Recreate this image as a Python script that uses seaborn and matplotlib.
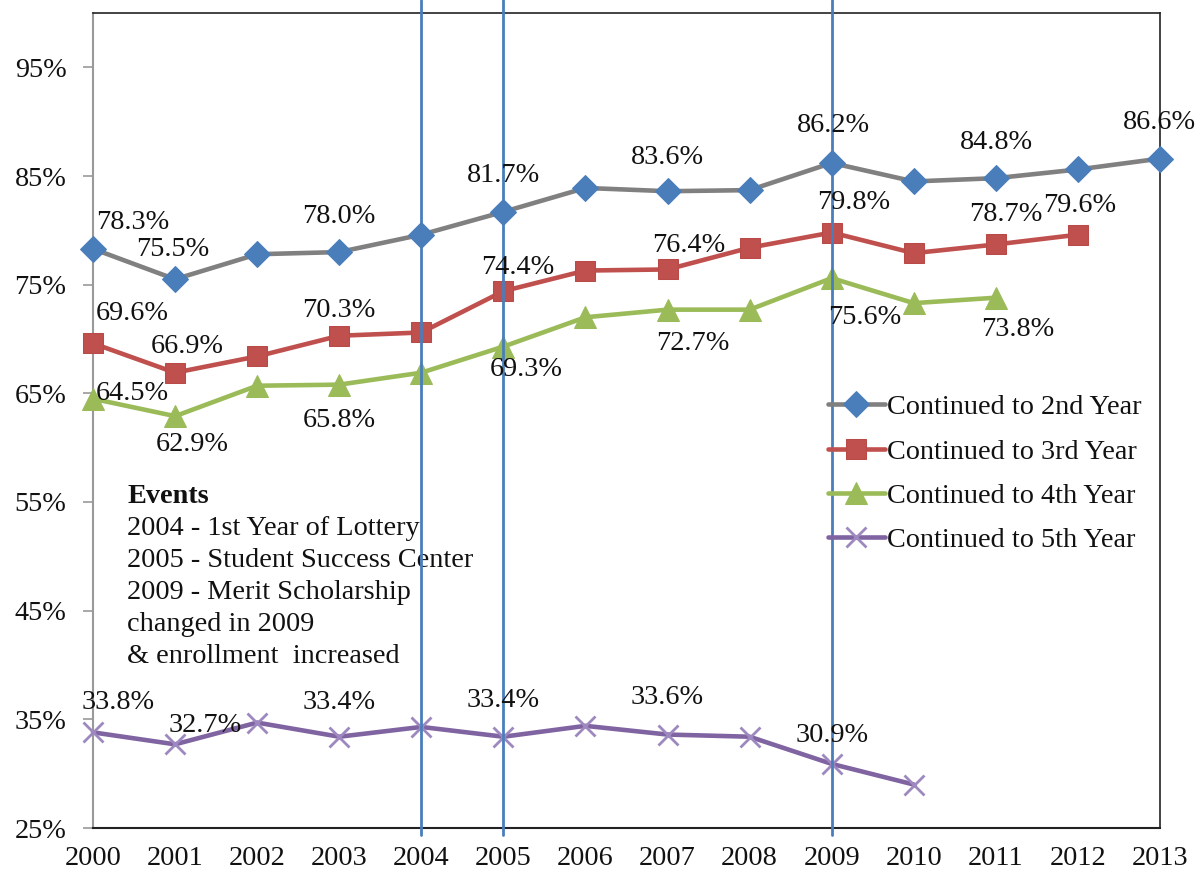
import matplotlib
matplotlib.use('Agg')
import matplotlib.pyplot as plt
import seaborn as sns
import pandas as pd

############### data ###############
years = [2000, 2001, 2002, 2003, 2004, 2005, 2006, 2007, 2008, 2009, 2010, 2011, 2012, 2013]
second_year = [78.3, 75.5, 77.8, 78.0, 79.6, 81.7, 83.9, 83.6, 83.7, 86.2, 84.5, 84.8, 85.6, 86.6]
third_year = [69.6, 66.9, 68.4, 70.3, 70.6, 74.4, 76.3, 76.4, 78.4, 79.8, 77.9, 78.7, 79.6]
fourth_year = [64.5, 62.9, 65.7, 65.8, 66.9, 69.3, 72.0, 72.7, 72.7, 75.6, 73.3, 73.8]
fifth_year = [33.8, 32.7, 34.7, 33.4, 34.3, 33.4, 34.4, 33.6, 33.4, 30.9, 29.0]

series_names = ['Continued to 2nd Year', 'Continued to 3rd Year',
                'Continued to 4th Year', 'Continued to 5th Year']
event_years = [2004, 2005, 2009]
events_title = 'Events'
events_lines = ['2004 - 1st Year of Lottery',
                '2005 - Student Success Center',
                '2009 - Merit Scholarship',
                'changed in 2009',
                '& enrollment  increased']
y_ticks = [25, 35, 45, 55, 65, 75, 85, 95]

# label placement (pixel offsets from the point), per series
label_offsets = [
    {2000: (40, 26), 2001: (-2, 30), 2003: (0, 36), 2005: (0, 36), 2007: (0, 34),
     2009: (2, 37), 2011: (1, 36), 2013: (-1, 36)},
    {2000: (39, 30), 2001: (12, 26), 2003: (0, 25), 2005: (14, 24), 2007: (21, 24),
     2009: (22, 30), 2011: (10, 30), 2012: (2, 29)},
    {2000: (39, 5), 2001: (17, -28), 2003: (0, -36), 2005: (23, -23), 2007: (25, -34),
     2009: (33, -39), 2011: (22, -32)},
    {2000: (25, 30), 2001: (30, 19), 2003: (0, 34), 2005: (0, 36), 2007: (0, 37),
     2009: (0, 28)},
]

styles = [
    dict(color='#808080', marker='D', markersize=13, markerfacecolor='#4a7ebb', markeredgecolor='#4a7ebb'),
    dict(color='#c0504d', marker='s', markersize=15, markerfacecolor='#c0504d', markeredgecolor='#b84a47'),
    dict(color='#9bbb59', marker='^', markersize=16, markerfacecolor='#9bbb59', markeredgecolor='#9bbb59'),
    dict(color='#8064a2', marker='x', markersize=15, markeredgecolor='#9d88bf', markeredgewidth=2),
]

FS = 20.3

sns.set_style('white')
plt.rcParams['font.family'] = ['Liberation Serif', 'DejaVu Serif']

fig = plt.figure(figsize=(12.01, 8.74), dpi=100)
ax = fig.add_axes([93 / 1201, 46 / 874, 1067 / 1201, 815 / 874])

all_series = [second_year, third_year, fourth_year, fifth_year]
for name, vals, st, offs in zip(series_names, all_series, styles, label_offsets):
    df = pd.DataFrame({'year': years[:len(vals)], 'rate': vals})
    sns.lineplot(data=df, x='year', y='rate', ax=ax, linewidth=3.3, label=name,
                 clip_on=False, zorder=3, **st)
    for yr, (dx, dy) in offs.items():
        v = vals[years.index(yr)]
        ax.annotate(f'{v:.1f}%', xy=(yr, v), xytext=(dx, dy), textcoords='offset pixels',
                    ha='center', va='center', fontsize=FS, color='#111111', zorder=5)

for ev in event_years:
    ax.axvline(ev, ymin=-0.009, ymax=1.016, color='#4a7ebb', linewidth=2, clip_on=False, zorder=4)

ax.set_xlim(2000, 2013)
ax.set_ylim(25, 100)
ax.set_xticks(years)
ax.set_xticklabels([str(y) for y in years], fontsize=FS)
ax.set_yticks(y_ticks)
ax.set_yticklabels([f'{t}%' for t in y_ticks], fontsize=FS)
ax.set_xlabel('')
ax.set_ylabel('')
ax.tick_params(axis='x', direction='in', length=7, width=1.2, color='#333333', pad=13,
               labelcolor='#111111')
ax.tick_params(axis='y', direction='out', length=7, width=1.2, color='#999999', pad=12,
               left=True, labelcolor='#111111')

for side in ['top', 'right']:
    ax.spines[side].set_color('#222222')
    ax.spines[side].set_linewidth(1.2)
ax.spines['left'].set_color('#999999')
ax.spines['left'].set_linewidth(1.5)
ax.spines['bottom'].set_color('#222222')
ax.spines['bottom'].set_linewidth(1.5)

ax.text(0.032, 0.422, events_title, transform=ax.transAxes, fontsize=FS,
        fontweight='bold', va='top', ha='left', color='#111111')
ax.text(0.032, 0.383, '\n'.join(events_lines), transform=ax.transAxes, fontsize=FS,
        va='top', ha='left', linespacing=1.37, color='#111111')

leg = ax.legend(loc='upper left', bbox_to_anchor=(0.689, 0.532), frameon=False,
                fontsize=FS, borderpad=0, borderaxespad=0, handlelength=2.0,
                handletextpad=0.1, labelspacing=0.66)
for t in leg.get_texts():
    t.set_color('#111111')

fig.savefig('out.png', dpi=100)
